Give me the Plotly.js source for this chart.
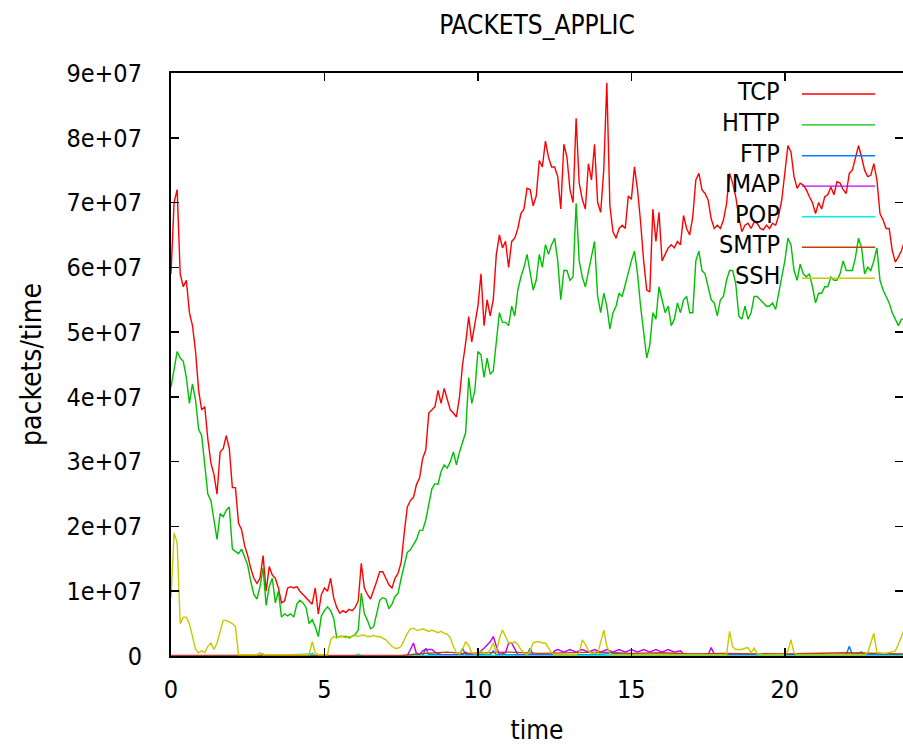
<!DOCTYPE html>
<html><head><meta charset="utf-8">
<script src="https://cdn.plot.ly/plotly-3.0.1.min.js"></script>
<style>html,body{margin:0;padding:0;background:#fff}#chart{width:903px;height:747px}</style>
</head><body><div id="chart"></div>
<script>
// values in units of 1e7 packets/time, sampled every 0.1 time units from 0
const UNIT = 1e7;
const tStart = 0, tStep = 0.1;
const tcp = [
5.9,7.0,7.2,5.9,5.7,5.8,5.3,5.1,4.7,4.1,
3.8,3.85,3.35,2.98,2.8,2.5,3.15,3.2,3.4,3.2,
2.6,2.6,2.05,1.95,1.7,1.55,1.35,1.2,1.12,1.2,
1.55,1.0,1.38,1.25,1.2,1.05,0.82,0.85,1.05,1.07,
1.05,1.07,1.0,0.95,0.9,0.85,0.8,1.05,0.65,0.95,
1.05,1.0,1.2,0.9,0.75,0.66,0.7,0.67,0.72,0.7,
0.75,0.85,1.43,1.05,0.95,0.88,1.0,1.15,1.3,1.3,
1.2,1.1,1.05,1.2,1.28,1.45,1.9,2.3,2.4,2.45,
2.65,2.75,3.05,3.18,3.75,3.8,3.85,4.1,3.9,4.13,
3.95,3.8,3.75,3.69,4.0,4.5,4.83,5.24,4.85,5.1,
5.4,5.9,5.1,5.5,5.25,5.5,6.2,6.5,6.3,6.4,
6.0,6.4,6.45,6.6,6.83,6.9,7.22,7.2,6.95,7.1,
7.65,7.55,7.95,7.7,7.55,7.55,7.4,6.9,7.9,7.7,
7.2,7.0,8.3,7.3,7.05,6.9,7.6,7.35,7.9,7.0,
6.85,7.5,8.85,6.95,6.55,6.45,6.6,6.65,6.6,7.1,
7.05,7.55,7.2,6.7,6.1,5.65,5.62,6.9,6.4,6.85,
6.1,6.2,6.3,6.35,6.3,6.4,6.35,6.8,6.6,6.5,
6.78,7.35,7.45,7.2,7.14,7.04,6.75,6.6,6.65,6.6,
6.73,6.98,7.45,7.3,7.09,6.78,6.55,6.65,6.68,6.6,
6.7,6.68,6.6,6.58,6.65,6.6,6.68,6.65,6.8,7.04,
7.5,7.88,7.78,7.4,7.22,7.3,7.27,7.2,7.09,7.0,
6.83,7.0,6.9,7.09,7.12,7.24,7.12,7.32,7.3,7.2,
7.14,7.45,7.5,7.68,7.88,7.7,7.5,7.4,7.42,7.6,
7.35,6.83,6.73,6.6,6.6,6.26,6.08,6.16,6.26,6.4
];
const http = [
4.15,4.4,4.7,4.6,4.55,4.3,3.9,4.2,3.95,3.5,
3.4,2.95,2.5,2.4,2.1,1.8,2.2,2.15,2.25,2.3,
1.65,1.62,1.58,1.65,1.52,1.4,1.15,0.95,0.88,1.07,
1.36,0.78,1.07,1.2,0.82,1.0,0.6,0.65,0.62,0.65,
0.6,0.8,0.86,0.82,0.75,0.5,0.56,0.45,0.3,0.62,
0.7,0.76,0.7,0.58,0.28,0.3,0.3,0.3,0.28,0.3,
0.33,0.4,0.97,0.65,0.55,0.42,0.45,0.65,0.86,0.9,
0.88,0.73,0.8,0.92,0.97,1.2,1.4,1.6,1.64,1.72,
1.8,1.94,1.94,2.1,2.35,2.58,2.66,2.65,2.85,2.95,
2.9,3.0,3.15,2.95,3.15,3.3,3.45,4.3,3.9,4.1,
4.7,4.65,4.3,4.6,4.35,4.4,4.9,5.3,5.15,5.15,
5.1,5.4,5.25,5.65,5.85,6.0,6.2,5.95,5.65,5.8,
6.2,6.0,6.35,6.2,6.35,6.45,6.1,5.5,5.95,5.95,
5.8,5.85,6.99,6.1,5.85,5.7,5.95,6.15,6.4,5.55,
5.3,5.6,5.4,5.05,5.3,5.4,5.6,5.55,5.75,5.95,
6.1,6.25,5.9,5.4,4.95,4.6,4.8,5.3,5.2,5.7,
5.5,5.3,5.4,5.1,5.2,5.45,5.3,5.5,5.55,5.3,
5.3,6.1,6.25,5.95,5.9,5.7,5.5,5.45,5.25,5.5,
5.55,5.8,5.95,5.95,5.75,5.25,5.2,5.4,5.2,5.3,
5.55,5.55,5.5,5.45,5.4,5.4,5.45,5.35,5.6,5.9,
6.1,6.45,6.35,5.95,5.8,6.05,5.9,5.85,5.9,5.7,
5.45,5.6,5.6,5.7,5.7,5.85,5.8,5.8,5.9,6.1,
5.95,5.95,5.95,6.15,6.45,6.3,5.9,6.0,5.95,6.1,
6.3,5.8,5.65,5.55,5.45,5.3,5.2,5.1,5.2,5.2
];
const ssh = [
0.9,1.9,1.75,0.5,0.6,0.6,0.5,0.3,0.1,0.05,
0.08,0.05,0.15,0.2,0.1,0.2,0.4,0.55,0.55,0.52,
0.5,0.45,0.02,0.02,0.02,0.02,0.02,0.02,0.02,0.05,
0.02,0.02,0.02,0.02,0.02,0.02,0.02,0.02,0.02,0.02,
0.02,0.02,0.02,0.02,0.02,0.02,0.22,0.05,0.02,0.02,
0.02,0.02,0.25,0.3,0.28,0.3,0.3,0.28,0.3,0.3,
0.32,0.3,0.32,0.32,0.3,0.3,0.32,0.3,0.3,0.28,
0.25,0.2,0.15,0.12,0.12,0.15,0.25,0.35,0.42,0.43,
0.4,0.4,0.42,0.4,0.38,0.4,0.38,0.36,0.38,0.35,
0.34,0.28,0.15,0.05,0.03,0.1,0.22,0.16,0.05,0.03,
0.05,0.08,0.05,0.03,0.1,0.2,0.05,0.27,0.4,0.3,
0.2,0.2,0.22,0.18,0.1,0.05,0.02,0.08,0.2,0.22,
0.22,0.2,0.2,0.12,0.05,0.02,0.02,0.02,0.02,0.02,
0.02,0.02,0.02,0.05,0.25,0.18,0.08,0.04,0.05,0.03,
0.2,0.4,0.15,0.04,0.02,0.02,0.02,0.02,0.02,0.02,
0.02,0.02,0.02,0.02,0.02,0.02,0.02,0.02,0.02,0.02,
0.02,0.02,0.02,0.02,0.02,0.02,0.02,0.02,0.02,0.02,
0.02,0.02,0.02,0.02,0.02,0.02,0.02,0.02,0.02,0.02,
0.02,0.02,0.38,0.14,0.1,0.1,0.1,0.12,0.13,0.05,
0.12,0.03,0.02,0.02,0.02,0.02,0.02,0.02,0.02,0.02,
0.02,0.08,0.25,0.05,0.02,0.02,0.02,0.02,0.02,0.02,
0.02,0.02,0.02,0.02,0.02,0.02,0.02,0.02,0.02,0.02,
0.02,0.02,0.02,0.02,0.02,0.02,0.02,0.05,0.2,0.35,
0.05,0.04,0.04,0.04,0.05,0.06,0.08,0.18,0.3,0.42
];
// small protocols, sparse samples (time, value in 1e7)
const ftpTime = [0,2.9,3.0,3.1,4.5,4.6,4.7,8.2,8.3,8.4,9.4,9.5,9.6,10.4,10.5,10.6,11.6,11.7,11.8,13.7,14.5,15.0,22.0,22.1,22.2,22.5,22.6,23.9];
const ftpVals = [0.005,0.005,0.03,0.005,0.005,0.04,0.005,0.005,0.12,0.02,0.02,0.12,0.02,0.02,0.08,0.02,0.02,0.12,0.02,0.02,0.04,0.02,0.02,0.15,0.02,0.06,0.02,0.02];
const imapTime = [0,7.7,7.8,7.9,8.0,8.1,8.2,8.3,8.5,8.6,8.8,9.5,9.6,9.7,10.0,10.2,10.4,10.5,10.6,10.7,10.9,11.0,11.1,11.2,11.3,12.4,12.5,12.6,12.8,13.0,13.2,13.4,13.6,13.8,14.0,14.2,14.4,14.6,14.8,15.0,15.2,15.4,15.6,15.8,16.0,16.2,16.4,16.6,16.7,17.5,17.6,17.7,19.0,23.9];
const imapVals = [0.01,0.01,0.1,0.2,0.03,0.02,0.08,0.1,0.1,0.06,0.02,0.02,0.06,0.02,0.04,0.12,0.22,0.3,0.15,0.02,0.05,0.2,0.2,0.12,0.02,0.02,0.08,0.1,0.06,0.1,0.06,0.1,0.06,0.1,0.06,0.1,0.06,0.1,0.06,0.1,0.06,0.1,0.06,0.1,0.06,0.1,0.06,0.08,0.03,0.02,0.13,0.03,0.02,0.01];
const popTime = [0,3.0,4.6,4.7,6.0,6.1,6.2,10.0,16.0,23.9];
const popVals = [0.005,0.01,0.03,0.005,0.005,0.03,0.005,0.01,0.01,0.01];
const smtpTime = [0,7.5,8.0,9.0,9.5,10.0,11.0,12.0,13.0,14.0,15.0,16.0,17.0,18.0,20.0,22.0,23.9];
const smtpVals = [0.005,0.005,0.03,0.06,0.04,0.05,0.06,0.04,0.05,0.06,0.04,0.05,0.03,0.04,0.03,0.05,0.03];

const names = ["TCP","HTTP","FTP","IMAP","POP","SMTP","SSH"];
const colors = ["#ff0000","#00c000","#0080ff","#c000ff","#00eeee","#c04000","#c8c800"];
const yTickVals = [0,1,2,3,4,5,6,7,8,9];
const yTickText = ["0","1e+07","2e+07","3e+07","4e+07","5e+07","6e+07","7e+07","8e+07","9e+07"];
const xTickVals = [0,5,10,15,20];

const time = tcp.map((_, i) => +(tStart + i * tStep).toFixed(2));
const scale = a => a.map(v => v * UNIT);
const series = [
  [time, tcp], [time, http], [ftpTime, ftpVals], [imapTime, imapVals],
  [popTime, popVals], [smtpTime, smtpVals], [time, ssh]
];
const traces = series.map((s, i) => ({
  x: s[0], y: scale(s[1]), type: "scatter", mode: "lines", name: names[i],
  line: {color: colors[i], width: 1.4}, showlegend: false
}));

const FONT = "DejaVu Sans Condensed, Liberation Sans Narrow, DejaVu Sans, sans-serif";
// gnuplot-style key: label right, sample line to the right
const keyY = [0.964, 0.911, 0.858, 0.806, 0.7535, 0.701, 0.648];
const annotations = names.map((n, i) => ({
  xref: "paper", yref: "paper", x: 0.8345, y: keyY[i] + 0.004, xanchor: "right", yanchor: "middle",
  text: n, showarrow: false, font: {family: FONT, size: 25, color: "#000"}
}));
const shapes = names.map((n, i) => ({
  type: "line", xref: "paper", yref: "paper", x0: 0.862, x1: 0.962, y0: keyY[i], y1: keyY[i],
  line: {color: colors[i], width: 1.4}
}));

const axisCommon = {
  showline: true, linecolor: "#000", linewidth: 2, mirror: "ticks",
  ticks: "inside", ticklen: 8, tickwidth: 1.5, tickcolor: "#000",
  showgrid: false, zeroline: false,
  tickfont: {family: FONT, size: 25, color: "#000"}
};
const layout = {
  width: 903, height: 747,
  margin: {l: 171, r: 0, t: 73, b: 91, pad: 0},
  paper_bgcolor: "#fff", plot_bgcolor: "#fff",
  title: {text: "PACKETS_APPLIC", font: {family: FONT, size: 26, color: "#000"},
          xref: "paper", x: 0.5, xanchor: "center", yref: "container", y: 1 - 25/747, yanchor: "middle"},
  xaxis: Object.assign({}, axisCommon, {
    range: [0, 23.85], tickvals: xTickVals, ticktext: xTickVals.map(String),
    ticklabelstandoff: 10,
    title: {text: "time", font: {family: FONT, size: 26, color: "#000"}, standoff: 18}
  }),
  yaxis: Object.assign({}, axisCommon, {
    range: [0, 9 * UNIT], tickvals: yTickVals.map(v => v * UNIT), ticktext: yTickText,
    ticklabelstandoff: 22,
    title: {text: "packets/time", font: {family: FONT, size: 28, color: "#000"}, standoff: 17}
  }),
  annotations: annotations, shapes: shapes
};
Plotly.newPlot("chart", traces, layout, {displayModeBar: false, staticPlot: true});
</script></body></html>
